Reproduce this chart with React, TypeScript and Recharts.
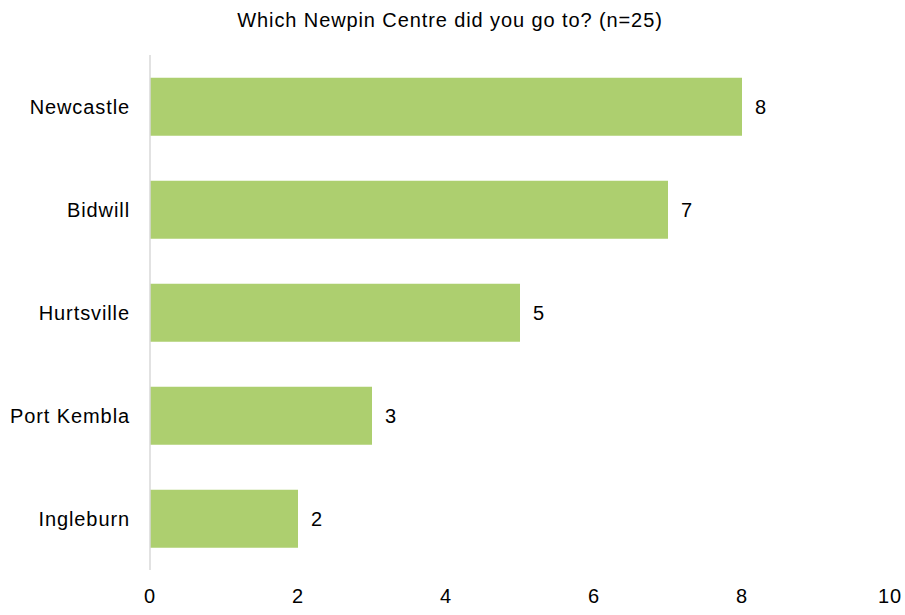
import { Bar, BarChart, LabelList, XAxis, YAxis } from "recharts";

const centres = ["Newcastle", "Bidwill", "Hurtsville", "Port Kembla", "Ingleburn"];
const counts = [8, 7, 5, 3, 2];
const xTicks = [0, 2, 4, 6, 8, 10];

const data = centres.map((name, i) => ({ name, count: counts[i] }));

const font = '"Liberation Sans", Arial, sans-serif';
const textStyle = { fill: "#000", fontSize: 20, fontFamily: font, letterSpacing: 0.9 };

export default function App() {
  return (
    <div style={{ position: "absolute", left: 0, top: 0, width: 905, height: 615, background: "#fff" }}>
      <div
        style={{
          position: "absolute",
          top: 10,
          left: 0,
          width: 900,
          textAlign: "center",
          fontFamily: font,
          fontSize: 20,
          lineHeight: "20px",
          letterSpacing: 0.9,
          color: "#000",
        }}
      >
        Which Newpin Centre did you go to? (n=25)
      </div>
      <BarChart
        width={905}
        height={615}
        data={data}
        layout="vertical"
        margin={{ top: 55, right: 15, bottom: 15, left: 0 }}
        barCategoryGap="22%"
      >
        <XAxis
          type="number"
          domain={[0, 10]}
          ticks={xTicks}
          axisLine={false}
          tickLine={false}
          tickMargin={13}
          height={30}
          tick={textStyle}
          interval={0}
        />
        <YAxis
          type="category"
          dataKey="name"
          width={150}
          axisLine={{ stroke: "#d9d9d9", strokeWidth: 1.5 }}
          tickLine={false}
          tickMargin={14}
          tick={textStyle}
          interval={0}
        />
        <Bar dataKey="count" fill="#adcf6f" isAnimationActive={false}>
          <LabelList dataKey="count" position="right" offset={13} style={textStyle} />
        </Bar>
      </BarChart>
    </div>
  );
}
